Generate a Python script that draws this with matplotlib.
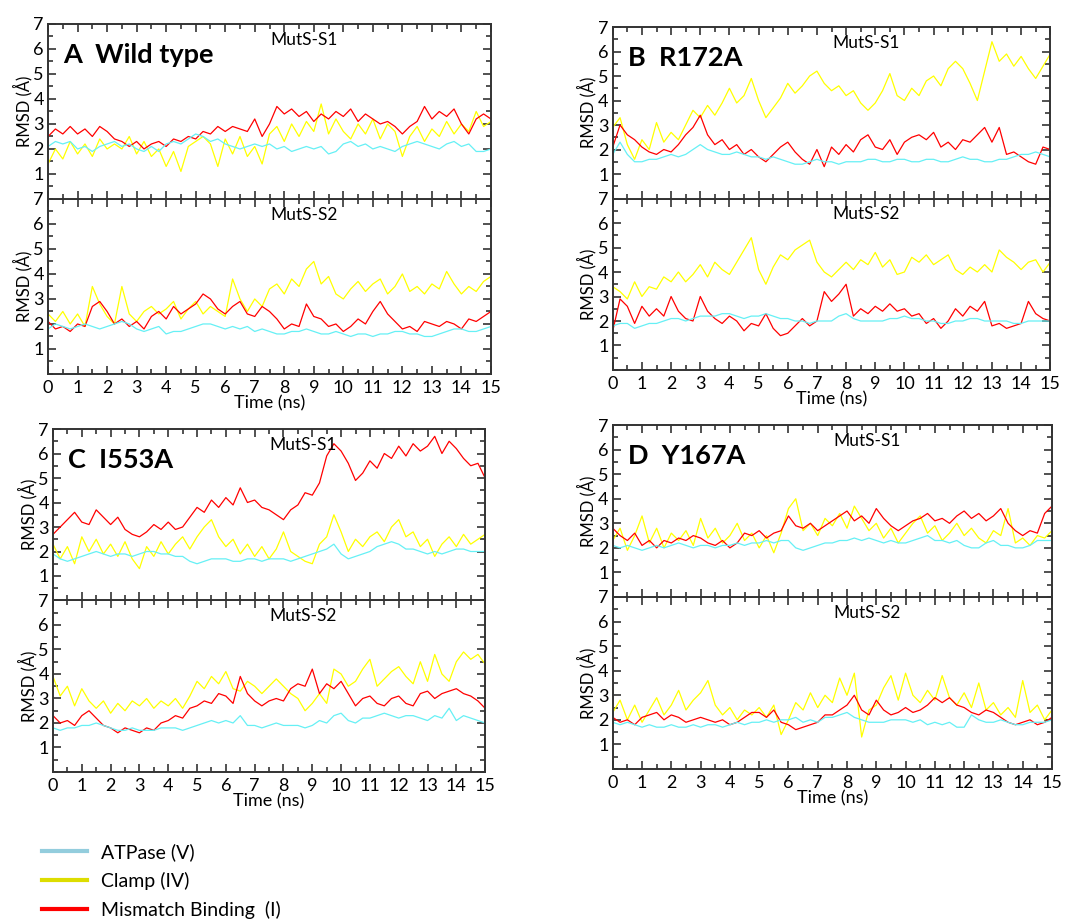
import matplotlib
matplotlib.use("Agg")
import matplotlib.pyplot as plt
from matplotlib import ticker
from matplotlib.lines import Line2D
import numpy as np

plt.rcParams["font.family"] = ["Lato", "DejaVu Sans"]

# time axis, one reading every 0.25 ns
time = np.arange(61) * 0.25

# ---- A  Wild type ----
wt_s1_atpase = [2.1, 2.3, 2.2, 2.3, 2.0, 2.1, 1.9, 2.1, 2.2, 2.3,
                2.1, 2.2, 2.0, 1.9, 2.1, 1.9, 2.2, 2.3, 2.2, 2.4,
                2.6, 2.5, 2.3, 2.4, 2.2, 2.1, 2.0, 2.1, 2.2, 2.1,
                2.2, 2.0, 2.1, 1.9, 2.0, 2.1, 2.0, 2.1, 1.8, 1.9,
                2.2, 2.3, 2.1, 2.2, 2.0, 2.1, 2.0, 1.9, 2.1, 2.2,
                2.3, 2.2, 2.1, 2.0, 2.2, 2.3, 2.1, 2.2, 1.9, 1.9,
                2.0]
wt_s1_clamp = [1.4, 2.0, 1.6, 2.3, 1.8, 2.2, 1.7, 2.4, 2.0, 2.2,
               2.0, 2.5, 1.8, 2.3, 1.7, 2.0, 1.3, 1.9, 1.1, 2.1,
               2.3, 2.5, 2.2, 1.3, 2.4, 1.8, 2.5, 1.7, 2.1, 1.4,
               2.6, 2.9, 2.3, 3.0, 2.5, 3.1, 2.7, 3.8, 2.6, 3.2,
               2.7, 2.4, 3.0, 2.6, 3.2, 2.4, 3.0, 2.7, 1.7, 2.5,
               2.9, 2.3, 2.8, 2.5, 3.1, 2.6, 3.0, 2.7, 3.5, 2.9,
               3.1]
wt_s1_mismatch = [2.5, 2.8, 2.6, 2.9, 2.6, 2.8, 2.5, 2.9, 2.7, 2.4,
                  2.3, 2.1, 2.3, 2.0, 2.2, 2.3, 2.1, 2.4, 2.3, 2.5,
                  2.4, 2.7, 2.6, 2.9, 2.7, 2.9, 2.8, 2.7, 3.2, 2.5,
                  3.0, 3.7, 3.4, 3.6, 3.3, 3.5, 3.1, 3.4, 3.2, 3.5,
                  3.3, 3.6, 3.1, 3.4, 3.2, 3.0, 3.1, 2.9, 2.6, 2.9,
                  3.1, 3.7, 3.2, 3.5, 3.3, 3.6, 3.0, 2.6, 3.2, 3.4,
                  3.2]
wt_s2_atpase = [1.8, 2.0, 1.9, 1.8, 1.9, 2.0, 1.9, 1.8, 1.9, 2.0,
                2.1, 2.0, 1.8, 1.7, 1.8, 1.9, 1.6, 1.7, 1.7, 1.8,
                1.9, 2.0, 2.0, 1.9, 1.8, 1.9, 1.8, 1.9, 1.7, 1.8,
                1.7, 1.6, 1.6, 1.7, 1.7, 1.8, 1.7, 1.6, 1.6, 1.7,
                1.6, 1.5, 1.6, 1.6, 1.5, 1.6, 1.6, 1.7, 1.7, 1.6,
                1.6, 1.5, 1.5, 1.6, 1.7, 1.8, 1.8, 1.7, 1.7, 1.8,
                1.9]
wt_s2_clamp = [2.4, 2.1, 2.5, 2.0, 2.4, 1.9, 3.5, 2.8, 2.3, 2.0,
               3.5, 2.4, 2.1, 2.5, 2.7, 2.4, 2.6, 2.9, 2.2, 2.6,
               2.9, 2.4, 2.7, 2.5, 2.3, 3.8, 3.0, 2.5, 3.0, 2.7,
               3.4, 3.6, 3.2, 3.8, 3.5, 4.2, 4.5, 3.6, 3.9, 3.2,
               3.0, 3.4, 3.7, 3.3, 3.6, 3.8, 3.2, 3.5, 4.0, 3.3,
               3.5, 3.2, 3.6, 3.4, 4.1, 3.6, 3.2, 3.5, 3.3, 3.7,
               3.9]
wt_s2_mismatch = [2.1, 1.8, 1.9, 1.7, 2.0, 1.9, 2.7, 2.9, 2.5, 2.0,
                  2.2, 1.9, 2.1, 1.8, 2.3, 2.5, 2.2, 2.7, 2.4, 2.6,
                  2.8, 3.2, 3.0, 2.6, 2.4, 2.7, 2.9, 2.4, 2.3, 2.7,
                  2.5, 2.2, 1.8, 2.0, 1.9, 2.8, 2.3, 2.2, 1.9, 2.0,
                  1.7, 1.9, 2.2, 2.0, 2.5, 2.9, 2.4, 2.1, 1.8, 1.9,
                  1.7, 2.1, 2.0, 1.9, 2.1, 2.0, 1.8, 2.2, 2.1, 2.3,
                  2.5]

# ---- B  R172A ----
r172_s1_atpase = [1.8, 2.3, 1.8, 1.5, 1.5, 1.6, 1.6, 1.7, 1.8, 1.7,
                  1.8, 2.0, 2.2, 2.0, 1.9, 1.8, 1.8, 1.9, 1.8, 1.7,
                  1.7, 1.6, 1.7, 1.6, 1.5, 1.4, 1.4, 1.5, 1.6, 1.5,
                  1.5, 1.4, 1.5, 1.5, 1.5, 1.6, 1.6, 1.5, 1.5, 1.6,
                  1.6, 1.5, 1.5, 1.6, 1.6, 1.5, 1.5, 1.6, 1.7, 1.6,
                  1.6, 1.5, 1.5, 1.6, 1.6, 1.7, 1.8, 1.8, 1.9, 1.8,
                  1.7]
r172_s1_clamp = [2.9, 3.3, 2.2, 1.6, 2.4, 2.0, 3.1, 2.3, 2.7, 2.4,
                 3.0, 3.6, 3.3, 3.8, 3.4, 3.9, 4.5, 3.9, 4.2, 4.9,
                 4.0, 3.3, 3.7, 4.1, 4.7, 4.3, 4.6, 5.0, 5.2, 4.7,
                 4.4, 4.6, 4.2, 4.4, 3.9, 3.6, 3.9, 4.4, 5.1, 4.2,
                 4.0, 4.5, 4.2, 4.8, 5.0, 4.6, 5.3, 5.6, 5.3, 4.7,
                 4.0, 5.2, 6.4, 5.6, 5.9, 5.4, 5.8, 5.3, 4.9, 5.4,
                 5.9]
r172_s1_mismatch = [2.1, 3.0, 2.6, 2.4, 2.1, 1.9, 1.8, 2.0, 1.9, 2.2,
                    2.6, 2.9, 3.4, 2.6, 2.2, 2.4, 2.0, 2.2, 1.8, 2.0,
                    1.7, 1.5, 1.8, 2.1, 2.3, 1.9, 1.6, 1.4, 2.0, 1.3,
                    2.1, 1.8, 2.2, 1.9, 2.4, 2.6, 2.1, 2.0, 2.4, 1.8,
                    2.3, 2.5, 2.6, 2.4, 2.7, 2.1, 2.3, 2.0, 2.4, 2.3,
                    2.6, 2.9, 2.3, 2.9, 1.8, 1.9, 1.7, 1.5, 1.4, 2.1,
                    2.0]
r172_s2_atpase = [1.8, 1.9, 1.9, 1.7, 1.8, 1.9, 1.9, 2.0, 2.1, 2.1,
                  2.0, 2.1, 2.2, 2.2, 2.2, 2.3, 2.3, 2.2, 2.1, 2.2,
                  2.2, 2.3, 2.2, 2.1, 2.1, 2.0, 2.0, 1.9, 2.0, 2.0,
                  2.0, 2.2, 2.3, 2.1, 2.0, 2.0, 2.0, 2.0, 2.1, 2.1,
                  2.2, 2.1, 2.1, 2.0, 2.0, 1.9, 1.9, 2.0, 2.0, 2.1,
                  2.1, 2.0, 2.0, 2.0, 2.0, 1.9, 1.9, 2.0, 2.0, 2.0,
                  2.0]
r172_s2_clamp = [3.4, 3.2, 2.9, 3.6, 3.0, 3.4, 3.3, 3.8, 3.6, 4.0,
                 3.6, 3.9, 4.3, 3.8, 4.4, 4.1, 3.9, 4.4, 4.9, 5.4,
                 4.1, 3.5, 4.2, 4.7, 4.5, 4.9, 5.1, 5.3, 4.4, 4.0,
                 3.8, 4.1, 4.4, 4.1, 4.5, 4.3, 4.8, 4.2, 4.5, 3.9,
                 4.0, 4.6, 4.4, 4.7, 4.3, 4.5, 4.7, 4.1, 3.9, 4.2,
                 4.0, 4.3, 4.0, 4.9, 4.6, 4.4, 4.1, 4.4, 4.5, 4.0,
                 4.4]
r172_s2_mismatch = [1.6, 2.9, 2.6, 1.9, 2.6, 2.2, 2.5, 2.2, 3.0, 2.4,
                    2.1, 2.0, 3.0, 2.4, 2.1, 1.9, 2.2, 2.0, 1.6, 1.9,
                    1.8, 2.3, 1.7, 1.4, 1.5, 1.8, 2.1, 1.8, 2.0, 3.2,
                    2.8, 3.1, 3.5, 2.2, 2.5, 2.3, 2.6, 2.4, 2.7, 2.4,
                    2.5, 2.2, 2.3, 1.9, 2.1, 1.7, 2.0, 2.5, 2.2, 2.6,
                    2.4, 2.8, 1.8, 1.9, 1.7, 1.8, 1.9, 2.8, 2.3, 2.1,
                    2.0]

# ---- C  I553A ----
i553_s1_atpase = [1.9, 1.7, 1.6, 1.7, 1.8, 1.9, 2.0, 1.9, 1.8, 1.9,
                  1.9, 1.8, 1.9, 2.0, 2.0, 1.9, 1.9, 1.8, 1.8, 1.6,
                  1.5, 1.6, 1.7, 1.7, 1.7, 1.6, 1.6, 1.7, 1.7, 1.6,
                  1.7, 1.7, 1.7, 1.6, 1.7, 1.8, 1.9, 2.0, 2.1, 2.3,
                  1.9, 1.7, 1.8, 1.9, 2.0, 2.2, 2.3, 2.4, 2.3, 2.1,
                  2.1, 2.0, 1.9, 2.0, 1.9, 2.0, 2.1, 2.1, 2.0, 2.0,
                  2.0]
i553_s1_clamp = [2.3, 1.7, 2.2, 1.5, 2.6, 2.0, 2.5, 1.9, 2.3, 1.8,
                 2.4, 1.7, 1.3, 2.2, 1.8, 2.4, 1.9, 2.3, 2.6, 2.1,
                 2.6, 3.0, 3.3, 2.6, 2.2, 2.5, 1.9, 2.3, 1.8, 2.2,
                 1.7, 2.1, 2.8, 2.0, 1.8, 1.6, 1.5, 2.3, 2.6, 3.5,
                 2.8, 2.0, 2.5, 2.2, 2.6, 2.8, 2.4, 3.0, 3.3, 2.6,
                 2.8, 2.2, 2.5, 1.8, 2.3, 2.6, 2.2, 2.7, 2.3, 2.5,
                 2.7]
i553_s1_mismatch = [2.7, 3.0, 3.3, 3.6, 3.2, 3.1, 3.7, 3.4, 3.1, 3.4,
                    2.9, 2.7, 2.6, 2.8, 3.1, 2.9, 3.2, 2.9, 3.0, 3.4,
                    3.8, 3.6, 4.1, 3.8, 4.2, 3.9, 4.6, 4.0, 4.1, 3.8,
                    3.7, 3.5, 3.3, 3.7, 3.9, 4.4, 4.3, 4.8, 5.9, 6.4,
                    6.1, 5.6, 4.9, 5.2, 5.7, 5.4, 6.0, 5.8, 6.3, 5.9,
                    6.4, 6.1, 6.3, 6.7, 6.0, 6.5, 6.2, 5.8, 5.5, 5.6,
                    5.0]
i553_s2_atpase = [1.8, 1.7, 1.8, 1.8, 1.9, 1.9, 2.0, 1.9, 1.8, 1.7,
                  1.7, 1.8, 1.7, 1.7, 1.7, 1.8, 1.8, 1.8, 1.7, 1.8,
                  1.9, 2.0, 2.1, 2.0, 2.1, 2.0, 2.3, 1.9, 1.9, 1.8,
                  1.9, 2.0, 1.9, 1.9, 1.9, 1.8, 1.9, 2.1, 2.0, 2.3,
                  2.4, 2.1, 2.0, 2.2, 2.2, 2.3, 2.4, 2.3, 2.2, 2.3,
                  2.3, 2.2, 2.1, 2.3, 2.2, 2.6, 2.1, 2.3, 2.2, 2.1,
                  2.0]
i553_s2_clamp = [3.9, 3.1, 3.5, 2.7, 3.4, 2.9, 2.6, 2.9, 2.4, 2.8,
                 2.5, 2.9, 2.7, 3.0, 2.6, 2.9, 2.7, 3.0, 2.6, 3.1,
                 3.7, 3.4, 3.9, 3.6, 4.1, 3.4, 3.3, 3.7, 3.5, 3.2,
                 3.5, 3.8, 3.5, 3.2, 3.0, 2.5, 2.8, 3.2, 2.8, 4.2,
                 4.0, 3.5, 3.7, 4.2, 4.6, 3.5, 3.8, 4.1, 4.3, 3.9,
                 3.6, 4.5, 3.7, 4.8, 4.0, 3.7, 4.5, 4.9, 4.6, 4.8,
                 4.4]
i553_s2_mismatch = [2.3, 2.0, 2.1, 1.9, 2.3, 2.5, 2.2, 1.9, 1.8, 1.6,
                    1.8, 1.7, 1.6, 1.8, 1.7, 2.0, 2.1, 2.3, 2.2, 2.6,
                    2.7, 2.9, 2.8, 3.2, 3.1, 2.8, 3.9, 3.2, 2.9, 2.7,
                    2.9, 3.0, 2.9, 3.4, 3.6, 3.5, 4.2, 3.2, 3.6, 3.4,
                    3.7, 3.2, 2.7, 3.0, 3.1, 2.8, 2.7, 3.0, 3.1, 2.8,
                    2.7, 3.2, 3.3, 3.0, 3.2, 3.3, 3.4, 3.2, 3.1, 2.9,
                    2.6]

# ---- D  Y167A ----
y167_s1_atpase = [2.1, 2.0, 2.1, 2.0, 1.9, 2.0, 2.1, 2.0, 2.1, 2.2,
                  2.1, 2.0, 2.1, 2.1, 2.0, 2.1, 2.1, 2.2, 2.1, 2.2,
                  2.2, 2.3, 2.2, 2.3, 2.3, 2.0, 1.9, 2.0, 2.1, 2.2,
                  2.2, 2.3, 2.3, 2.4, 2.3, 2.4, 2.3, 2.2, 2.3, 2.2,
                  2.2, 2.3, 2.4, 2.5, 2.3, 2.3, 2.2, 2.3, 2.1, 2.0,
                  2.0, 2.2, 2.3, 2.1, 2.1, 2.0, 2.0, 2.1, 2.3, 2.3,
                  2.3]
y167_s1_clamp = [2.3, 2.8, 1.9, 2.5, 3.3, 2.2, 2.8, 2.0, 2.6, 2.3,
                 2.7, 2.1, 3.2, 2.4, 2.8, 2.2, 2.5, 3.0, 2.3, 2.6,
                 2.0, 2.5, 1.8, 2.6, 3.6, 4.0, 2.7, 3.0, 2.5, 3.2,
                 2.9, 3.4, 2.8, 3.7, 3.2, 2.7, 3.0, 2.4, 2.8, 2.2,
                 2.6, 3.0, 3.3, 2.6, 2.9, 2.3, 2.6, 3.0, 2.5, 2.8,
                 2.4, 2.2, 2.7, 2.5, 3.6, 2.2, 2.4, 2.1, 2.5, 2.4,
                 2.7]
y167_s1_mismatch = [2.8, 2.5, 2.3, 2.6, 2.1, 2.3, 2.0, 2.3, 2.2, 2.4,
                    2.3, 2.5, 2.4, 2.2, 2.1, 2.3, 2.0, 2.2, 2.6, 2.5,
                    2.7, 2.4, 2.6, 2.7, 3.3, 2.9, 2.8, 3.0, 2.7, 2.9,
                    3.1, 3.3, 3.5, 3.1, 3.3, 3.0, 3.6, 3.2, 2.9, 2.7,
                    2.9, 3.1, 3.2, 3.4, 3.1, 3.2, 3.0, 3.3, 3.5, 3.2,
                    3.4, 3.1, 3.3, 3.6, 3.0, 2.7, 2.5, 2.7, 2.6, 3.4,
                    3.7]
y167_s2_atpase = [1.9, 1.8, 1.9, 1.8, 1.7, 1.8, 1.7, 1.7, 1.8, 1.7,
                  1.7, 1.8, 1.7, 1.8, 1.8, 1.7, 1.8, 1.9, 1.8, 1.9,
                  1.9, 2.0, 1.9, 2.0, 2.0, 2.1, 1.9, 2.0, 1.9, 2.1,
                  2.1, 2.2, 2.3, 2.1, 2.0, 1.9, 1.9, 1.9, 2.0, 2.0,
                  2.0, 1.9, 2.0, 1.8, 1.9, 1.8, 1.9, 1.7, 1.7, 2.2,
                  2.0, 1.9, 1.9, 2.0, 1.9, 1.8, 1.8, 1.9, 1.9, 1.9,
                  2.0]
y167_s2_clamp = [2.3, 2.8, 2.0, 2.6, 1.9, 2.4, 2.9, 2.2, 2.6, 3.2,
                 2.4, 2.8, 3.1, 3.6, 2.6, 2.2, 2.5, 2.0, 2.4, 2.2,
                 2.5, 2.1, 2.6, 1.4, 2.0, 2.7, 2.4, 3.1, 2.5, 3.0,
                 2.7, 3.7, 3.0, 3.9, 1.3, 2.4, 2.6, 3.3, 3.8, 2.8,
                 3.9, 3.0, 2.7, 3.2, 2.8, 3.8, 2.9, 2.6, 3.1, 2.5,
                 3.5, 2.4, 2.7, 2.2, 2.5, 2.1, 3.6, 2.3, 2.6, 2.0,
                 2.4]
y167_s2_mismatch = [2.1, 1.9, 2.0, 1.8, 2.1, 2.2, 2.3, 2.0, 2.2, 2.1,
                    1.9, 2.0, 2.1, 2.0, 1.9, 2.0, 1.8, 1.9, 2.1, 2.3,
                    2.3, 2.1, 2.4, 1.9, 1.8, 1.6, 1.7, 1.8, 1.9, 2.2,
                    2.2, 2.4, 2.6, 3.0, 2.4, 2.2, 2.8, 2.4, 2.2, 2.3,
                    2.5, 2.3, 2.4, 2.6, 2.9, 2.7, 2.9, 2.6, 2.5, 2.3,
                    2.2, 2.4, 2.3, 2.1, 1.9, 1.8, 1.9, 2.0, 1.8, 1.9,
                    2.1]

series_labels = ["ATPase (V)", "Clamp (IV)", "Mismatch Binding  (I)"]
line_colors = ["#66f0f5", "#ffff00", "#ff0000"]
legend_colors = ["#93cddd", "#dddd00", "#ff0000"]
x_ticks = list(range(0, 16))
y_ticks = list(range(1, 8))

panels = [
    ("A  Wild type", (0.0447, 0.5944, 0.412, 0.3796),
     (wt_s1_atpase, wt_s1_clamp, wt_s1_mismatch),
     (wt_s2_atpase, wt_s2_clamp, wt_s2_mismatch)),
    ("B  R172A", (0.570, 0.5987, 0.407, 0.372),
     (r172_s1_atpase, r172_s1_clamp, r172_s1_mismatch),
     (r172_s2_atpase, r172_s2_clamp, r172_s2_mismatch)),
    ("C  I553A", (0.0493, 0.1627, 0.402, 0.372),
     (i553_s1_atpase, i553_s1_clamp, i553_s1_mismatch),
     (i553_s2_atpase, i553_s2_clamp, i553_s2_mismatch)),
    ("D  Y167A", (0.570, 0.166, 0.4086, 0.373),
     (y167_s1_atpase, y167_s1_clamp, y167_s1_mismatch),
     (y167_s2_atpase, y167_s2_clamp, y167_s2_mismatch)),
]


def style_axis(ax):
    ax.set_xlim(0, 15)
    ax.set_ylim(0, 7)
    ax.set_xticks(x_ticks)
    ax.set_yticks(y_ticks)
    ax.xaxis.set_minor_locator(ticker.MultipleLocator(0.5))
    ax.yaxis.set_minor_locator(ticker.MultipleLocator(0.5))
    ax.tick_params(direction="in", top=True, right=True, which="both",
                   color="#333333", width=1.2)
    ax.tick_params(which="major", length=6, labelsize=13, pad=3)
    ax.tick_params(axis="x", which="major", pad=4)
    ax.tick_params(which="minor", length=3.5)
    for s in ax.spines.values():
        s.set_color("#333333")
        s.set_linewidth(1.4)
    ax.set_ylabel("RMSD (Å)", fontsize=12, labelpad=1)


def draw_traces(ax, traces):
    atp, clamp, mm = traces
    # draw order: clamp, mismatch, then ATPase on top
    ax.plot(time, clamp, color=line_colors[1], lw=0.9)
    ax.plot(time, mm, color=line_colors[2], lw=0.9)
    ax.plot(time, atp, color=line_colors[0], lw=0.9)


fig = plt.figure(figsize=(10.75, 9.22), dpi=100)

for title, (x0, y0, w, h), s1, s2 in panels:
    half = h / 2.0
    ax2 = fig.add_axes([x0, y0, w, half])
    ax1 = fig.add_axes([x0, y0 + half, w, half], sharex=ax2)
    for ax, traces, name in ((ax1, s1, "MutS-S1"), (ax2, s2, "MutS-S2")):
        draw_traces(ax, traces)
        style_axis(ax)
        ax.text(0.578, 0.955, name, transform=ax.transAxes,
                ha="center", va="top", fontsize=12.5)
    ax1.tick_params(labelbottom=False)
    ax1.text(0.035, 0.775, title, transform=ax1.transAxes, ha="left",
             va="baseline", fontsize=19.5, fontweight="bold")
    ax2.set_xlabel("Time (ns)", fontsize=13, labelpad=0)

handles = [Line2D([], [], color=c, lw=3) for c in legend_colors]
fig.legend(handles, series_labels, loc="upper left",
           bbox_to_anchor=(0.032, 0.094), frameon=False, fontsize=14,
           handlelength=2.3, handletextpad=0.75, labelspacing=0.55,
           borderaxespad=0)

fig.savefig("out.png", dpi=100)
